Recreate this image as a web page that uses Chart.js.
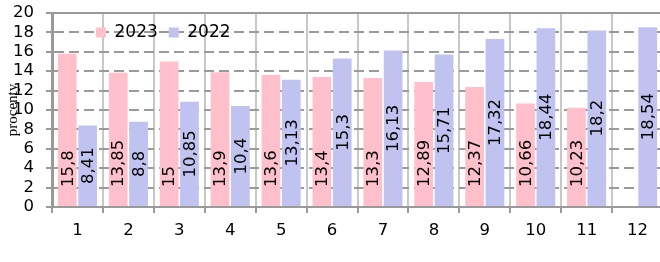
<!DOCTYPE html>
<html>
<head>
<meta charset="utf-8">
<script src="https://cdn.jsdelivr.net/npm/chart.js@4/dist/chart.umd.min.js"></script>
<style>
    html, body { margin: 0; padding: 0; background: #fff; overflow: hidden; }
    canvas { display: block; }
</style>
</head>
<body>
<canvas id="chart" width="663" height="262"></canvas>
<script>
const months = ['1', '2', '3', '4', '5', '6', '7', '8', '9', '10', '11', '12'];
const values2023 = [15.8, 13.85, 15, 13.9, 13.6, 13.4, 13.3, 12.89, 12.37, 10.66, 10.23, null];
const values2022 = [8.41, 8.8, 10.85, 10.4, 13.13, 15.3, 16.13, 15.71, 17.32, 18.44, 18.2, 18.54];
const yTitle = 'procenty';

const tickFont = { family: 'DejaVu Sans', size: 16.5 };
const axisGrey = '#9a9a9a';

// bar value labels, written vertically (2023 at base, 2022 centred)
const barLabels = {
    id: 'barLabels',
    afterDatasetsDraw (chart) {
        const ctx = chart.ctx;
        chart.data.datasets.forEach((ds, di) => {
            const meta = chart.getDatasetMeta(di);
            meta.data.forEach((bar, i) => {
                const v = ds.data[i];
                if (v === null || v === undefined) return;
                const text = String(v).replace('.', ',');
                ctx.save();
                ctx.font = '16.5px "DejaVu Sans"';
                ctx.fillStyle = '#000';
                ctx.textBaseline = 'middle';
                if (di === 0) {
                    ctx.translate(bar.x, bar.base - 19);
                    ctx.textAlign = 'left';
                } else {
                    ctx.translate(bar.x, (bar.y + bar.base) / 2);
                    ctx.textAlign = 'center';
                }
                ctx.rotate(-Math.PI / 2);
                ctx.fillText(text, 0, 1);
                ctx.restore();
            });
        });
    }
};

// legend sits inside the plot, laid out in one row
const legendShift = {
    id: 'legendShift',
    beforeLayout (chart) {
        if (chart.legend) {
            chart.legend.isHorizontal = () => true;
        }
    },
    afterLayout (chart) {
        if (chart.legend) {
            chart.legend.left = chart.chartArea.left + 33;
            chart.legend.top = chart.chartArea.top;
        }
    }
};

const config = {
    type: 'bar',
    data: {
        labels: months,
        datasets: [
            {
                label: '2023',
                data: values2023,
                backgroundColor: '#ffc0cb',
                borderWidth: 0
            },
            {
                label: '2022',
                data: values2022,
                backgroundColor: '#c0c3f0',
                borderWidth: 0
            }
        ]
    },
    options: {
        responsive: false,
        animation: false,
        categoryPercentage: 0.8,
        barPercentage: 0.92,
        layout: {
            padding: { top: 13, right: 0, bottom: 0, left: 0 }
        },
        plugins: {
            legend: {
                position: 'chartArea',
                align: 'start',
                labels: {
                    boxWidth: 10,
                    boxHeight: 10,
                    padding: 11,
                    color: '#000',
                    font: { family: 'DejaVu Sans', size: 17 }
                }
            },
            tooltip: { enabled: false }
        },
        scales: {
            x: {
                position: 'bottom',
                afterFit: (scale) => { scale.height = 55; },
                grid: {
                    color: '#c8c8c8',
                    lineWidth: 2,
                    tickLength: 6,
                    tickColor: axisGrey,
                    tickWidth: 2
                },
                border: { color: axisGrey, width: 2 },
                ticks: {
                    color: '#000',
                    font: tickFont,
                    padding: 8,
                    maxRotation: 0,
                    autoSkip: false
                }
            },
            x2: {
                position: 'top',
                afterFit: (scale) => { scale.height = 0; },
                grid: { drawOnChartArea: false, drawTicks: false },
                border: { color: axisGrey, width: 2 },
                ticks: { display: false }
            },
            y: {
                min: 0,
                max: 20,
                afterFit: (scale) => {
                    scale.width = 52;
                    scale.paddingTop = 0;
                    scale.paddingBottom = 0;
                },
                grid: {
                    color: axisGrey,
                    lineWidth: 2,
                    tickLength: 6,
                    tickColor: axisGrey,
                    tickWidth: 2
                },
                border: { color: axisGrey, width: 3, dash: [10, 5] },
                ticks: {
                    stepSize: 2,
                    autoSkip: false,
                    color: '#000',
                    font: { family: 'DejaVu Sans', size: 16.5, lineHeight: 1 },
                    padding: 12
                },
                title: {
                    display: true,
                    text: yTitle,
                    color: '#000',
                    font: { family: 'Liberation Serif', size: 15 },
                    padding: { top: 4, bottom: 0 }
                }
            }
        }
    },
    plugins: [barLabels, legendShift]
};

new Chart(document.getElementById('chart').getContext('2d'), config);
</script>
</body>
</html>
